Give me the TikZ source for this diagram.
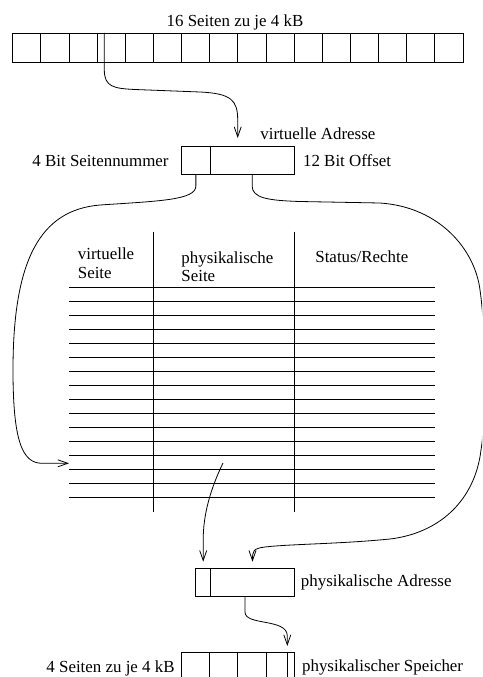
\documentclass[tikz,border=0pt]{standalone}
\usepackage{fontspec}
\setmainfont{Liberation Serif}
\usetikzlibrary{arrows.meta}
\begin{document}
\begin{tikzpicture}[x=1pt,y=-1pt,line width=0.8pt,
  cell/.style={draw,rectangle,inner sep=0pt,outer sep=0pt,anchor=north west},
  lbl/.style={inner sep=0pt,anchor=base west,font=\fontsize{16.9}{20}\selectfont},
  lblr/.style={lbl,anchor=base east},
  lblc/.style={lbl,anchor=base},
  arr/.style={-{Straight Barb[length=10pt,width=7pt]}},
  rule/.style={line width=0.8pt}]
\clip (0,0) rectangle (482,677);

% virtual address space: 16 pages
\foreach \i in {1,...,16}
  \node[cell,minimum width=28.14pt,minimum height=29pt] (v\i) at ({12.7+28.14*(\i-1)},33) {};
\coordinate (vptr) at (104.3,33);
\node[lblc] (vtitle) at (235,27) {16 Seiten zu je 4 kB};

% virtual address
\node[cell,minimum width=28.3pt,minimum height=27.6pt] (vpn) at (181.7,146.7) {};
\node[cell,minimum width=84.3pt,minimum height=27.6pt] (voff) at (210,146.7) {};
\node[lbl] (vaddr) at (260,139) {virtuelle Adresse};
\node[lblr] (vpnlbl) at (169,166.7) {4 Bit Seitennummer};
\node[lbl] (vofflbl) at (302.7,166.7) {12 Bit Offset};

% page table
\draw[rule] (153.7,231.7) -- (153.7,512.3);
\draw[rule] (294.3,231.7) -- (294.3,512.3);
\foreach \k in {0,...,15}
  \draw[rule] (69,{287.7+14*\k}) -- (435,{287.7+14*\k});
\node[lbl] (h1a) at (77.5,259.3) {virtuelle};
\node[lbl] (h1b) at (77.5,278.3) {Seite};
\node[lbl] (h2a) at (181,263.7) {physikalische};
\node[lbl] (h2b) at (181,281) {Seite};
\node[lbl] (h3) at (315,262.7) {Status/Rechte};
\coordinate (vin) at (69,463.3);
\coordinate (pout) at (223,463);

% physical address
\node[cell,minimum width=15pt,minimum height=28.4pt] (ppn) at (195.7,568.3) {};
\node[cell,minimum width=83.6pt,minimum height=28.4pt] (poff) at (210.7,568.3) {};
\node[lbl] (paddr) at (300.5,586.7) {physikalische Adresse};

% physical memory: 4 pages
\foreach \i in {1,...,4}
  \node[cell,minimum width=28.08pt,minimum height=40pt] (m\i) at ({181.7+28.08*(\i-1)},652.7) {};
\coordinate (mptr) at (287.3,652.7);
\draw[rule] (mptr) -- (287.3,680);
\node[lblr] (mlbl) at (175,672.8) {4 Seiten zu je 4 kB};
\node[lbl] (mname) at (301.7,671.5) {physikalischer Speicher};

% connectors
\draw[arr,shorten >=8.7pt] (vptr) -- (104.3,70)
  .. controls (104.3,87) and (114,88.5) .. (135,89.5) -- (200,92)
  .. controls (231,93.5) and (237.7,100) .. (237.7,120)
  -- ([xshift=27.7pt]voff.north west);

\draw[arr] (vpn.south) -- (195.85,186)
  .. controls (195.85,200) and (160,201) .. (100,205)
  .. controls (40,210) and (13,260) .. (13,370)
  .. controls (13,440) and (22,463.3) .. (42,463.3) -- (vin);

\draw[arr,shorten >=6.6pt] (voff.south) -- (252.15,186)
  .. controls (252.15,198) and (268,200.5) .. (300,201.5) -- (380,203)
  .. controls (440,207) and (475,250) .. (480,290)
  .. controls (486,330) and (486,420) .. (481,450)
  .. controls (475,500) and (440,533) .. (390,539)
  .. controls (340,544) and (290,544) .. (265,547)
  .. controls (253,548.5) and (252.5,551) .. (252.5,560) -- (poff.north);

\draw[arr,shorten >=6.6pt] (pout)
  .. controls (210,490) and (203.2,515) .. (203.2,540) -- (ppn.north);

\draw[arr,shorten >=6.7pt] ([xshift=34.3pt]poff.south west) -- (245,612)
  .. controls (245,626) and (287.3,618) .. (287.3,636) -- (mptr);
\end{tikzpicture}
\end{document}
